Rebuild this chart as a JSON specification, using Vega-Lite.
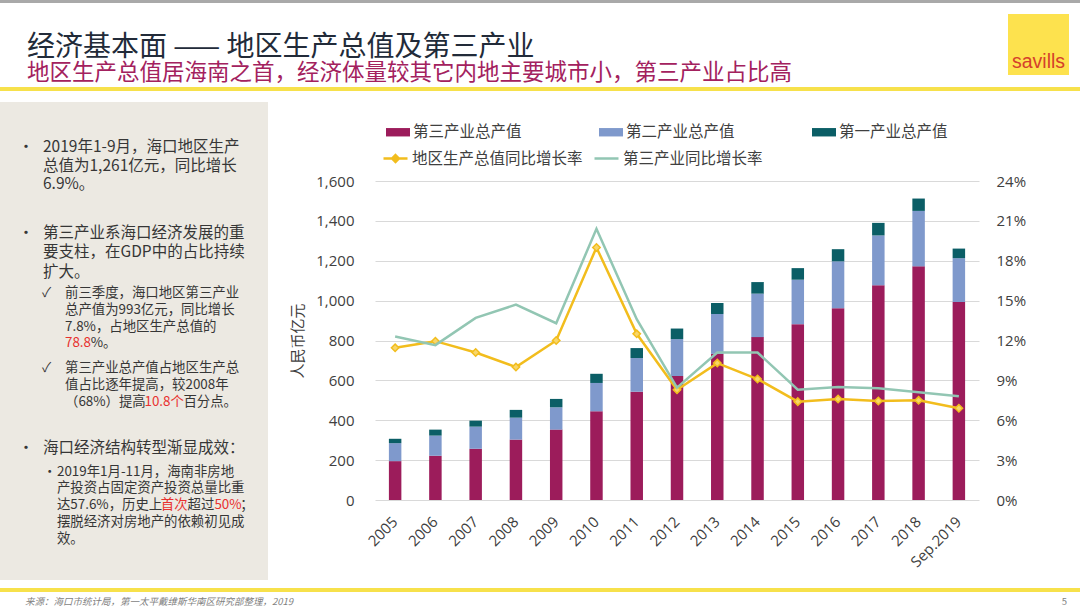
{
  "$schema": "https://vega.github.io/schema/vega-lite/v6.json",
  "background": "white",
  "padding": 0,
  "spacing": 0,
  "config": {
    "font": "Noto Sans CJK SC",
    "view": {"stroke": null},
    "axis": {"labelFont": "Open Sans", "labelFontSize": 15, "labelColor": "#404040", "labelOverlap": false},
    "legend": {"labelFont": "Noto Sans CJK SC"},
    "concat": {"spacing": 0}
  },
  "title": {"text": "经济基本面 —— 地区生产总值及第三产业", "subtitle": "地区生产总值居海南之首，经济体量较其它内地主要城市小，第三产业占比高", "anchor": "start", "frame": "group", "dx": 27, "offset": -84, "font": "Noto Sans CJK SC", "fontSize": 28, "fontWeight": "normal", "color": "#222B39", "subtitleFont": "Noto Sans CJK SC", "subtitleFontSize": 22.5, "subtitleColor": "#A3215E", "subtitlePadding": 0},
  "resolve": {"scale": {"fill": "independent", "stroke": "independent"}, "legend": {"fill": "independent", "stroke": "independent"}},
  "datasets": {
    "gdp": [
      {"year": "2005", "industry": "第三产业总产值", "value": 195}, {"year": "2005", "industry": "第二产业总产值", "value": 90}, {"year": "2005", "industry": "第一产业总产值", "value": 22},
      {"year": "2006", "industry": "第三产业总产值", "value": 222}, {"year": "2006", "industry": "第二产业总产值", "value": 101}, {"year": "2006", "industry": "第一产业总产值", "value": 30},
      {"year": "2007", "industry": "第三产业总产值", "value": 257}, {"year": "2007", "industry": "第二产业总产值", "value": 111}, {"year": "2007", "industry": "第一产业总产值", "value": 30},
      {"year": "2008", "industry": "第三产业总产值", "value": 303}, {"year": "2008", "industry": "第二产业总产值", "value": 110}, {"year": "2008", "industry": "第一产业总产值", "value": 39},
      {"year": "2009", "industry": "第三产业总产值", "value": 353}, {"year": "2009", "industry": "第二产业总产值", "value": 112}, {"year": "2009", "industry": "第一产业总产值", "value": 42},
      {"year": "2010", "industry": "第三产业总产值", "value": 445}, {"year": "2010", "industry": "第二产业总产值", "value": 142}, {"year": "2010", "industry": "第一产业总产值", "value": 46},
      {"year": "2011", "industry": "第三产业总产值", "value": 543}, {"year": "2011", "industry": "第二产业总产值", "value": 169}, {"year": "2011", "industry": "第一产业总产值", "value": 50},
      {"year": "2012", "industry": "第三产业总产值", "value": 622}, {"year": "2012", "industry": "第二产业总产值", "value": 185}, {"year": "2012", "industry": "第一产业总产值", "value": 53},
      {"year": "2013", "industry": "第三产业总产值", "value": 733}, {"year": "2013", "industry": "第二产业总产值", "value": 200}, {"year": "2013", "industry": "第一产业总产值", "value": 55},
      {"year": "2014", "industry": "第三产业总产值", "value": 817}, {"year": "2014", "industry": "第二产业总产值", "value": 218}, {"year": "2014", "industry": "第一产业总产值", "value": 58},
      {"year": "2015", "industry": "第三产业总产值", "value": 882}, {"year": "2015", "industry": "第二产业总产值", "value": 223}, {"year": "2015", "industry": "第一产业总产值", "value": 58},
      {"year": "2016", "industry": "第三产业总产值", "value": 962}, {"year": "2016", "industry": "第二产业总产值", "value": 235}, {"year": "2016", "industry": "第一产业总产值", "value": 61},
      {"year": "2017", "industry": "第三产业总产值", "value": 1077}, {"year": "2017", "industry": "第二产业总产值", "value": 250}, {"year": "2017", "industry": "第一产业总产值", "value": 63},
      {"year": "2018", "industry": "第三产业总产值", "value": 1172}, {"year": "2018", "industry": "第二产业总产值", "value": 278}, {"year": "2018", "industry": "第一产业总产值", "value": 62},
      {"year": "Sep.2019", "industry": "第三产业总产值", "value": 993}, {"year": "Sep.2019", "industry": "第二产业总产值", "value": 220}, {"year": "Sep.2019", "industry": "第一产业总产值", "value": 48}
    ],
    "growth": [
      {"year": "2005", "series": "地区生产总值同比增长率", "rate": 11.45},
      {"year": "2006", "series": "地区生产总值同比增长率", "rate": 11.95},
      {"year": "2007", "series": "地区生产总值同比增长率", "rate": 11.1},
      {"year": "2008", "series": "地区生产总值同比增长率", "rate": 10.0},
      {"year": "2009", "series": "地区生产总值同比增长率", "rate": 12.0},
      {"year": "2010", "series": "地区生产总值同比增长率", "rate": 19.0},
      {"year": "2011", "series": "地区生产总值同比增长率", "rate": 12.5},
      {"year": "2012", "series": "地区生产总值同比增长率", "rate": 8.3},
      {"year": "2013", "series": "地区生产总值同比增长率", "rate": 10.3},
      {"year": "2014", "series": "地区生产总值同比增长率", "rate": 9.1},
      {"year": "2015", "series": "地区生产总值同比增长率", "rate": 7.4},
      {"year": "2016", "series": "地区生产总值同比增长率", "rate": 7.6},
      {"year": "2017", "series": "地区生产总值同比增长率", "rate": 7.45},
      {"year": "2018", "series": "地区生产总值同比增长率", "rate": 7.5},
      {"year": "Sep.2019", "series": "地区生产总值同比增长率", "rate": 6.9},
      {"year": "2005", "series": "第三产业同比增长率", "rate": 12.3},
      {"year": "2006", "series": "第三产业同比增长率", "rate": 11.65},
      {"year": "2007", "series": "第三产业同比增长率", "rate": 13.7},
      {"year": "2008", "series": "第三产业同比增长率", "rate": 14.7},
      {"year": "2009", "series": "第三产业同比增长率", "rate": 13.3},
      {"year": "2010", "series": "第三产业同比增长率", "rate": 20.4},
      {"year": "2011", "series": "第三产业同比增长率", "rate": 13.6},
      {"year": "2012", "series": "第三产业同比增长率", "rate": 8.45},
      {"year": "2013", "series": "第三产业同比增长率", "rate": 11.1},
      {"year": "2014", "series": "第三产业同比增长率", "rate": 11.1},
      {"year": "2015", "series": "第三产业同比增长率", "rate": 8.3},
      {"year": "2016", "series": "第三产业同比增长率", "rate": 8.5},
      {"year": "2017", "series": "第三产业同比增长率", "rate": 8.4},
      {"year": "2018", "series": "第三产业同比增长率", "rate": 8.1},
      {"year": "Sep.2019", "series": "第三产业同比增长率", "rate": 7.8}
    ],
    "notes": [
      {"line": 2.68, "col": 1.37, "text": "•", "kind": "main"},
      {"line": 2.68, "col": 3.21, "text": "2019年1-9月，海口地区生产", "kind": "main"},
      {"line": 3.81, "col": 3.21, "text": "总值为1,261亿元，同比增长", "kind": "main"},
      {"line": 4.93, "col": 3.21, "text": "6.9%。", "kind": "main"},
      {"line": 7.86, "col": 1.37, "text": "•", "kind": "main"},
      {"line": 7.86, "col": 3.21, "text": "第三产业系海口经济发展的重", "kind": "main"},
      {"line": 9.01, "col": 3.21, "text": "要支柱，在GDP中的占比持续", "kind": "main"},
      {"line": 10.16, "col": 3.21, "text": "扩大。", "kind": "main"},
      {"line": 11.46, "col": 3.13, "text": "✓", "kind": "sub"},
      {"line": 11.46, "col": 4.85, "text": "前三季度，海口地区第三产业", "kind": "sub"},
      {"line": 12.46, "col": 4.85, "text": "总产值为993亿元，同比增长", "kind": "sub"},
      {"line": 13.46, "col": 4.85, "text": "7.8%，占地区生产总值的", "kind": "sub"},
      {"line": 14.46, "col": 4.85, "text": "78.8", "kind": "red"},
      {"line": 14.46, "col": 6.77, "text": "%。", "kind": "sub"},
      {"line": 15.95, "col": 3.13, "text": "✓", "kind": "sub"},
      {"line": 15.95, "col": 4.85, "text": "第三产业总产值占地区生产总", "kind": "sub"},
      {"line": 16.95, "col": 4.85, "text": "值占比逐年提高，较2008年", "kind": "sub"},
      {"line": 17.95, "col": 4.85, "text": "（68%）提高", "kind": "sub"},
      {"line": 17.95, "col": 10.78, "text": "10.8个", "kind": "red"},
      {"line": 17.95, "col": 13.69, "text": "百分点。", "kind": "sub"},
      {"line": 20.74, "col": 1.37, "text": "•", "kind": "main"},
      {"line": 20.74, "col": 3.21, "text": "海口经济结构转型渐显成效：", "kind": "main"},
      {"line": 22.14, "col": 3.21, "text": "•", "kind": "sub"},
      {"line": 22.14, "col": 4.25, "text": "2019年1月-11月，海南非房地", "kind": "sub"},
      {"line": 23.14, "col": 4.25, "text": "产投资占固定资产投资总量比重", "kind": "sub"},
      {"line": 24.14, "col": 4.25, "text": "达57.6%，历史上", "kind": "sub"},
      {"line": 24.14, "col": 12.0, "text": "首次", "kind": "red"},
      {"line": 24.14, "col": 14.0, "text": "超过", "kind": "sub"},
      {"line": 24.14, "col": 16.0, "text": "50%", "kind": "red"},
      {"line": 24.14, "col": 17.93, "text": "；", "kind": "sub"},
      {"line": 25.14, "col": 4.25, "text": "摆脱经济对房地产的依赖初见成", "kind": "sub"},
      {"line": 26.14, "col": 4.25, "text": "效。", "kind": "sub"}
    ]
  },
  "vconcat": [
    {"width": 1080, "height": 3, "view": {"fill": "#A9A9A9"}, "data": {"values": []}, "mark": "point"},
    {"width": 1080, "height": 11, "data": {"values": []}, "mark": "point"},
    {
      "hconcat": [
        {"width": 1008, "height": 61, "data": {"values": []}, "mark": "point"},
        {"width": 61, "height": 61, "view": {"fill": "#FDE24E"}, "data": {"values": [{"brand": "savills"}]}, "mark": {"type": "text", "font": "Liberation Sans", "fontSize": 19.5, "color": "#D5402B", "baseline": "alphabetic", "align": "center", "dy": 23.5}, "encoding": {"text": {"field": "brand"}}}
      ]
    },
    {"width": 1080, "height": 12, "data": {"values": []}, "mark": "point"},
    {"width": 1080, "height": 4, "view": {"fill": "#F7E14B"}, "data": {"values": []}, "mark": "point"},
    {"width": 1080, "height": 11, "data": {"values": []}, "mark": "point"},
    {
      "spacing": 22,
      "resolve": {"scale": {"fill": "independent", "stroke": "independent"}, "legend": {"fill": "independent", "stroke": "independent"}},
      "hconcat": [
        {
          "width": 268, "height": 399,
          "data": {"name": "notes"},
          "encoding": {
            "x": {"field": "col", "type": "quantitative", "scale": {"domain": [0, 20], "nice": false, "zero": false}, "axis": null},
            "y": {"field": "line", "type": "quantitative", "scale": {"domain": [4.7305, 28.6228], "nice": false, "zero": false, "reverse": true}, "axis": null},
            "text": {"field": "text", "type": "nominal"}
          },
          "layer": [
            {"mark": {"type": "rect", "color": "#ECE9E2"}, "encoding": {"x": {"datum": 0}, "x2": {"datum": 20}, "y": {"datum": 0}, "y2": {"datum": 28.6228}, "text": null}},
            {"transform": [{"filter": "datum.kind === 'main'"}], "mark": {"type": "text", "align": "left", "baseline": "middle", "fontSize": 15.5, "color": "#363636"}},
            {"transform": [{"filter": "datum.kind === 'sub'"}], "mark": {"type": "text", "align": "left", "baseline": "middle", "fontSize": 13.4, "color": "#363636"}},
            {"transform": [{"filter": "datum.kind === 'red'"}], "mark": {"type": "text", "align": "left", "baseline": "middle", "fontSize": 13.4, "color": "#E8312F"}}
          ]
        },
        {
          "width": 604, "height": 319,
          "layer": [
            {
              "data": {"name": "gdp"},
              "mark": {"type": "bar", "width": {"band": 0.31}},
              "encoding": {
                "x": {"field": "year", "type": "nominal", "scale": {"type": "band", "paddingInner": 0, "paddingOuter": 0},
                      "axis": {"title": null, "labelAngle": -45, "labelAlign": "right", "labelBaseline": "middle", "labelPadding": 19, "domain": false, "ticks": false}},
                "y": {"field": "value", "type": "quantitative", "stack": "zero", "scale": {"domain": [0, 1600], "nice": false},
                      "axis": {"values": [0, 200, 400, 600, 800, 1000, 1200, 1400, 1600], "format": ",.0f", "grid": true, "gridColor": "#D9D9D9", "domain": false, "ticks": false, "labelPadding": 21, "title": "人民币亿元", "titleFont": "Noto Sans CJK SC", "titleFontSize": 15, "titleFontWeight": "normal", "titleColor": "#404040", "titlePadding": 10}},
                "fill": {"field": "industry", "type": "nominal",
                         "scale": {"domain": ["第三产业总产值", "第二产业总产值", "第一产业总产值"], "range": ["#9C1C5B", "#7F99CC", "#0B5E66"]},
                         "legend": {"orient": "none", "legendX": 11, "legendY": -61, "direction": "horizontal", "title": null, "symbolType": "M-1,-0.35H1V0.35H-1Z", "symbolSize": 576, "symbolStrokeWidth": 0, "labelFontSize": 15.5, "labelColor": "#404040", "labelOffset": 3, "columnPadding": 77, "labelLimit": 300, "padding": 0}},
                "order": {"field": "value", "type": "quantitative", "sort": "descending"}
              }
            },
            {
              "layer": [
                {
                  "data": {"name": "growth"},
                  "transform": [{"filter": "datum.series === '地区生产总值同比增长率'"}],
                  "mark": {"type": "line", "strokeWidth": 2.5},
                  "encoding": {
                    "x": {"field": "year", "type": "nominal"},
                    "y": {"field": "rate", "type": "quantitative", "scale": {"domain": [0, 24], "nice": false},
                          "axis": {"orient": "right", "values": [0, 3, 6, 9, 12, 15, 18, 21, 24], "labelExpr": "datum.value + '%'", "labelOverlap": false, "grid": false, "domain": false, "ticks": false, "labelPadding": 17, "title": null}},
                    "stroke": {"field": "series", "type": "nominal",
                               "scale": {"domain": ["地区生产总值同比增长率", "第三产业同比增长率"], "range": ["#F2BD1D", "#92C6B3"]},
                               "legend": {"orient": "none", "legendX": 7, "legendY": -36, "direction": "horizontal", "title": null, "symbolType": "stroke", "symbolSize": 576, "symbolStrokeWidth": 2.5, "labelFontSize": 15.5, "labelColor": "#404040", "labelOffset": 3, "columnPadding": 6, "labelLimit": 300, "padding": 0,
                                          "encode": {"symbols": {"update": {"shape": {"signal": "datum.value === '地区生产总值同比增长率' ? 'M-1,0H-0.3M0.3,0H1M0,-0.28L0.28,0L0,0.28L-0.28,0Z' : 'stroke'"}, "fill": {"signal": "datum.value === '地区生产总值同比增长率' ? '#F2BD1D' : 'transparent'"}}}}}}
                  }
                },
                {
                  "data": {"name": "growth"},
                  "transform": [{"filter": "datum.series === '地区生产总值同比增长率'"}],
                  "mark": {"type": "point", "shape": "diamond", "filled": true, "fill": "#F8D66A", "stroke": "#F2BD1D", "strokeWidth": 1.5, "size": 55, "opacity": 1},
                  "encoding": {
                    "x": {"field": "year", "type": "nominal"},
                    "y": {"field": "rate", "type": "quantitative",
                          "axis": {"orient": "right", "values": [0, 3, 6, 9, 12, 15, 18, 21, 24], "labelExpr": "datum.value + '%'", "labelOverlap": false, "grid": false, "domain": false, "ticks": false, "labelPadding": 17, "title": null}}
                  }
                },
                {
                  "data": {"name": "growth"},
                  "transform": [{"filter": "datum.series === '第三产业同比增长率'"}],
                  "mark": {"type": "line", "strokeWidth": 2.5},
                  "encoding": {
                    "x": {"field": "year", "type": "nominal"},
                    "y": {"field": "rate", "type": "quantitative",
                          "axis": {"orient": "right", "values": [0, 3, 6, 9, 12, 15, 18, 21, 24], "labelExpr": "datum.value + '%'", "labelOverlap": false, "grid": false, "domain": false, "ticks": false, "labelPadding": 17, "title": null}},
                    "stroke": {"field": "series", "type": "nominal"}
                  }
                }
              ]
            }
          ],
          "resolve": {"scale": {"y": "independent"}}
        }
      ]
    },
    {"width": 1080, "height": 8, "data": {"values": []}, "mark": "point"},
    {
      "hconcat": [
        {"width": 1040, "height": 4, "view": {"fill": "#F7E14B"}, "data": {"values": []}, "mark": "point",
         "title": {"text": "来源：海口市统计局，第一太平戴维斯华南区研究部整理，2019", "orient": "bottom", "anchor": "start", "frame": "group", "dx": 25, "offset": 5, "font": "Noto Sans CJK SC", "fontSize": 9.5, "fontStyle": "italic", "fontWeight": "normal", "color": "#7F7F7F"}},
        {"width": 40, "height": 4, "view": {"fill": "#F7E14B"}, "data": {"values": []}, "mark": "point",
         "title": {"text": "5", "orient": "bottom", "anchor": "end", "frame": "group", "dx": -13, "offset": 5, "font": "Noto Sans CJK SC", "fontSize": 9.5, "fontWeight": "normal", "color": "#7F7F7F"}}
      ]
    }
  ]
}
